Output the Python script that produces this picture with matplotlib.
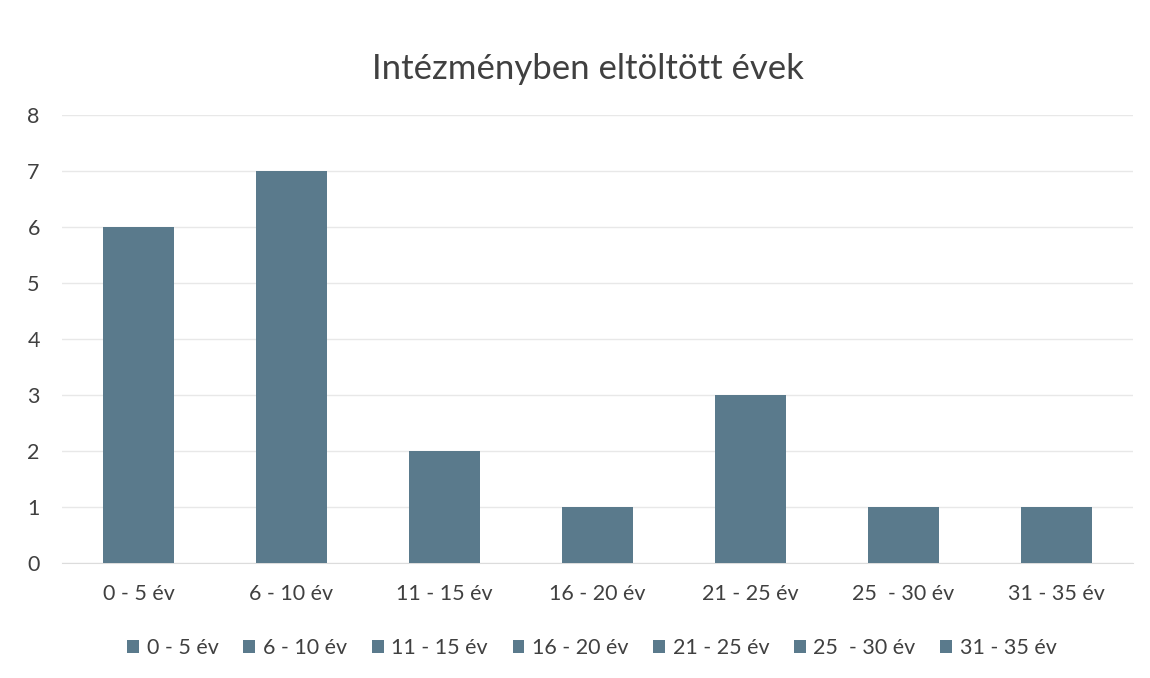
import numpy as np
import matplotlib.pyplot as plt

categories = ["0 - 5 év", "6 - 10 év", "11 - 15 év", "16 - 20 év",
              "21 - 25 év", "25  - 30 év", "31 - 35 év"]
values = [6, 7, 2, 1, 3, 1, 1]
yticks = [0, 1, 2, 3, 4, 5, 6, 7, 8]

bar_color = "#5a7a8c"
text_color = "#404040"

plt.rcParams['font.family'] = ['Lato', 'DejaVu Sans']

fig = plt.figure(figsize=(11.5, 6.78), dpi=100)
ax = fig.add_axes([62 / 1150, 1 - 563 / 678, 1071 / 1150, 448 / 678])

x = np.arange(len(categories))
for i, (cat, val) in enumerate(zip(categories, values)):
    ax.bar(x[i], val, width=0.47, color=bar_color, label=cat, zorder=3)

ax.set_xlim(-0.5, len(categories) - 0.5)
ax.set_ylim(0, 8)
ax.set_yticks(yticks)
ax.set_xticks(x)
ax.set_xticklabels(categories)
ax.tick_params(axis='both', length=0, labelsize=15.5, colors=text_color)
ax.tick_params(axis='x', pad=15)
ax.tick_params(axis='y', pad=16)
ax.grid(axis='y', color='#e8e8e8', linewidth=1, zorder=0)
for side in ['top', 'right', 'left']:
    ax.spines[side].set_visible(False)
ax.spines['bottom'].set_color('#dcdcdc')

fig.suptitle("Intézményben eltöltött évek", x=588 / 1150, y=1 - 69 / 678,
             va='center', fontsize=25, color=text_color)

fig.legend(loc='center', bbox_to_anchor=(592 / 1150, 1 - 648 / 678),
           ncol=len(categories), frameon=False, fontsize=15.5,
           handlelength=0.55, handleheight=0.55, handletextpad=0.35,
           columnspacing=1.15, labelcolor=text_color)

fig.savefig("out.png", dpi=100, facecolor="white")
